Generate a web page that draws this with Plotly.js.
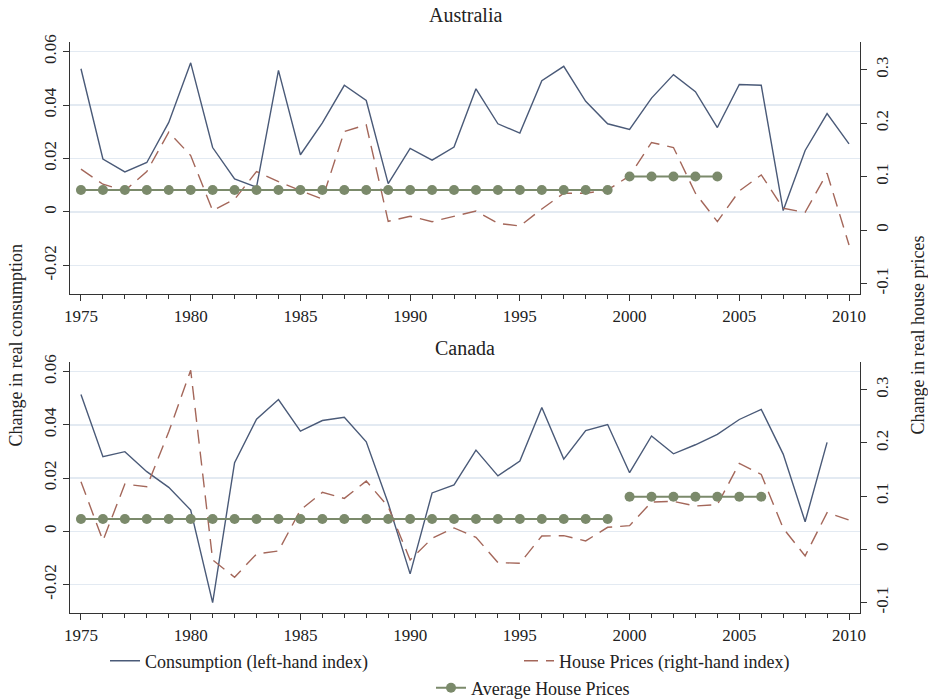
<!DOCTYPE html>
<html>
<head>
<meta charset="utf-8">
<script src="https://cdn.plot.ly/plotly-3.0.1.min.js"></script>
<style>html,body{margin:0;padding:0;background:#fff;}#chart{width:928px;height:700px;}</style>
</head>
<body>
<div id="chart"></div>
<script>
// ---------- data ----------
const years = [1975,1976,1977,1978,1979,1980,1981,1982,1983,1984,1985,1986,1987,1988,1989,1990,1991,1992,1993,1994,1995,1996,1997,1998,1999,2000,2001,2002,2003,2004,2005,2006,2007,2008,2009,2010];

const ausConsumption = [0.0536,0.0198,0.0150,0.0185,0.0335,0.0558,0.0241,0.0124,0.0093,0.0530,0.0214,0.0333,0.0474,0.0417,0.0106,0.0238,0.0194,0.0243,0.0461,0.0330,0.0295,0.0491,0.0545,0.0414,0.0330,0.0309,0.0426,0.0514,0.0450,0.0316,0.0477,0.0474,0.0005,0.0230,0.0368,0.0255];
const ausHousePrices = [0.1138,0.0857,0.0737,0.1094,0.1832,0.1394,0.0362,0.0575,0.1094,0.0906,0.0737,0.0581,0.1844,0.1969,0.0163,0.0257,0.0156,0.0263,0.0356,0.0125,0.0075,0.0394,0.0688,0.0688,0.0750,0.1013,0.1638,0.1544,0.0688,0.0156,0.0731,0.1031,0.0406,0.0331,0.1063,-0.0281];
const ausAvgYears = [1975,1976,1977,1978,1979,1980,1981,1982,1983,1984,1985,1986,1987,1988,1989,1990,1991,1992,1993,1994,1995,1996,1997,1998,1999,null,2000,2001,2002,2003,2004];
const ausAvgValues = [0.075,0.075,0.075,0.075,0.075,0.075,0.075,0.075,0.075,0.075,0.075,0.075,0.075,0.075,0.075,0.075,0.075,0.075,0.075,0.075,0.075,0.075,0.075,0.075,0.075,null,0.100,0.100,0.100,0.100,0.100];

const canConsumption = [0.0514,0.0280,0.0299,0.0224,0.0165,0.0080,-0.0268,0.0258,0.0421,0.0495,0.0376,0.0416,0.0428,0.0336,0.0105,-0.0160,0.0144,0.0174,0.0305,0.0208,0.0264,0.0465,0.0271,0.0378,0.0401,0.0220,0.0358,0.0291,0.0325,0.0364,0.0420,0.0458,0.0290,0.0036,0.0334,null];
const canHousePrices = [0.1269,0.0163,0.1225,0.1175,0.2206,0.3363,-0.0200,-0.0525,-0.0088,-0.0031,0.0738,0.1069,0.0956,0.1281,0.0800,-0.0200,0.0206,0.0400,0.0225,-0.0250,-0.0263,0.0250,0.0256,0.0156,0.0413,0.0444,0.0888,0.0900,0.0813,0.0838,0.1613,0.1406,0.0394,-0.0125,0.0688,0.0550];
const canAvgYears = [1975,1976,1977,1978,1979,1980,1981,1982,1983,1984,1985,1986,1987,1988,1989,1990,1991,1992,1993,1994,1995,1996,1997,1998,1999,null,2000,2001,2002,2003,2004,2005,2006];
const canAvgValues = [0.0569,0.0569,0.0569,0.0569,0.0569,0.0569,0.0569,0.0569,0.0569,0.0569,0.0569,0.0569,0.0569,0.0569,0.0569,0.0569,0.0569,0.0569,0.0569,0.0569,0.0569,0.0569,0.0569,0.0569,0.0569,null,0.0988,0.0988,0.0988,0.0988,0.0988,0.0988,0.0988];

const xTickVals = [1975,1980,1985,1990,1995,2000,2005,2010];
const leftTickVals = [-0.02,0,0.02,0.04,0.06];
const leftTickText = ["-0.02","0","0.02","0.04","0.06"];
const rightTickVals = [-0.1,0,0.1,0.2,0.3];
const rightTickText = ["-0.1","0","0.1","0.2","0.3"];

const panelTitles = ["Australia","Canada"];
const seriesNames = ["Consumption (left-hand index)","House Prices (right-hand index)","Average House Prices"];
const leftTitle = "Change in real consumption";
const rightTitle = "Change in real house prices";

// ---------- styles ----------
const FONT = "Liberation Serif, Times New Roman, serif";
const cCons = "#4a5a78";
const cHouse = "#a4675a";
const cAvg = "#7b8a6b";
const gridC = "#e3eaf2";
const axisC = "#333333";

function traces(cons, house, avgX, avgY, xa, yl, yr, show){
  return [
    {x: years, y: cons, xaxis: xa, yaxis: yl, type:'scatter', mode:'lines',
     name: seriesNames[0], line:{color:cCons, width:1.4}, showlegend: show, legend:'legend', connectgaps:false},
    {x: years, y: house, xaxis: xa, yaxis: yr, type:'scatter', mode:'lines',
     name: seriesNames[1], line:{color:cHouse, width:1.4, dash:'14px,8px'}, showlegend: show, legend:'legend2'},
    {x: avgX, y: avgY, xaxis: xa, yaxis: yr, type:'scatter', mode:'lines+markers',
     name: seriesNames[2], line:{color:cAvg, width:2}, marker:{color:cAvg, size:10},
     showlegend: show, legend:'legend3', connectgaps:false}
  ];
}

const data = [].concat(
  traces(ausConsumption, ausHousePrices, ausAvgYears, ausAvgValues, 'x', 'y', 'y2', true),
  traces(canConsumption, canHousePrices, canAvgYears, canAvgValues, 'x2', 'y3', 'y4', false)
);

const leftRange = [-0.0307, 0.0636];
const rightRange = [-0.1197, 0.3518];
const tickFont = {family: FONT, size: 17, color: '#222'};

function xAxis(anchor){
  return {anchor: anchor, range:[1974.5, 2010.5], tickvals: xTickVals, ticktext: xTickVals.map(String),
    ticks:'outside', ticklen:6, tickwidth:1, tickcolor:axisC, showline:true, linecolor:axisC, linewidth:1.2,
    showgrid:false, zeroline:false, tickfont: tickFont,
    minor:{dtick:1, tick0:1975, ticks:'outside', ticklen:4, tickcolor:axisC, showgrid:false}};
}
function leftAxis(domain, anchor){
  return {domain: domain, anchor: anchor, range: leftRange, tickvals: leftTickVals, ticktext: leftTickText,
    ticks:'outside', ticklen:6, tickcolor:axisC, showline:true, linecolor:axisC, linewidth:1.2,
    showgrid:true, gridcolor: gridC, gridwidth:1.5, zeroline:false, tickangle:-90, tickfont: tickFont};
}
function rightAxis(over, anchor){
  return {overlaying: over, anchor: anchor, side:'right', range: rightRange, tickvals: rightTickVals, ticktext: rightTickText,
    ticks:'outside', ticklen:6, tickcolor:axisC, showline:true, linecolor:axisC, linewidth:1.2,
    showgrid:false, zeroline:false, tickangle:-90, tickfont: tickFont};
}

const topDom = [0.5587, 1];
const botDom = [0, 0.4396];
const legFont = {family:FONT, size:18, color:'#222'};

const layout = {
  width: 928, height: 700,
  margin: {l:70, r:68, t:42, b:87},
  paper_bgcolor:'#ffffff', plot_bgcolor:'#ffffff',
  font: {family: FONT, size: 17, color:'#222'},
  xaxis: xAxis('y'),
  xaxis2: xAxis('y3'),
  yaxis: leftAxis(topDom, 'x'),
  yaxis2: rightAxis('y', 'x'),
  yaxis3: leftAxis(botDom, 'x2'),
  yaxis4: rightAxis('y3', 'x2'),
  showlegend: true,
  legend: {orientation:'h', xref:'container', yref:'container', x: 105/928, y: 1-661/700, xanchor:'left', yanchor:'middle',
    font: legFont, bgcolor:'rgba(0,0,0,0)'},
  legend2: {orientation:'h', xref:'container', yref:'container', x: 519/928, y: 1-661/700, xanchor:'left', yanchor:'middle',
    font: legFont, bgcolor:'rgba(0,0,0,0)'},
  legend3: {orientation:'h', xref:'container', yref:'container', x: 431/928, y: 1-688/700, xanchor:'left', yanchor:'middle',
    font: legFont, bgcolor:'rgba(0,0,0,0)', borderwidth:0},
  annotations: [
    {text: panelTitles[0], xref:'paper', yref:'paper', x:0.5, y: 1, yshift: 27, showarrow:false,
     font:{family:FONT, size:20, color:'#222'}, xanchor:'center', yanchor:'middle'},
    {text: panelTitles[1], xref:'paper', yref:'paper', x:0.5, y: botDom[1], yshift: 14, showarrow:false,
     font:{family:FONT, size:20, color:'#222'}, xanchor:'center', yanchor:'middle'},
    {text: leftTitle, xref:'paper', yref:'paper', x:0, xshift:-55, y: 0.5, yshift: -18, textangle:-90, showarrow:false,
     font:{family:FONT, size:18, color:'#222'}, xanchor:'center', yanchor:'middle'},
    {text: rightTitle, xref:'paper', yref:'paper', x:1, xshift:57, y: 0.5, yshift: -8, textangle:-90, showarrow:false,
     font:{family:FONT, size:18, color:'#222'}, xanchor:'center', yanchor:'middle'}
  ]
};

Plotly.newPlot('chart', data, layout, {displayModeBar:false, staticPlot:true});
</script>
</body>
</html>
